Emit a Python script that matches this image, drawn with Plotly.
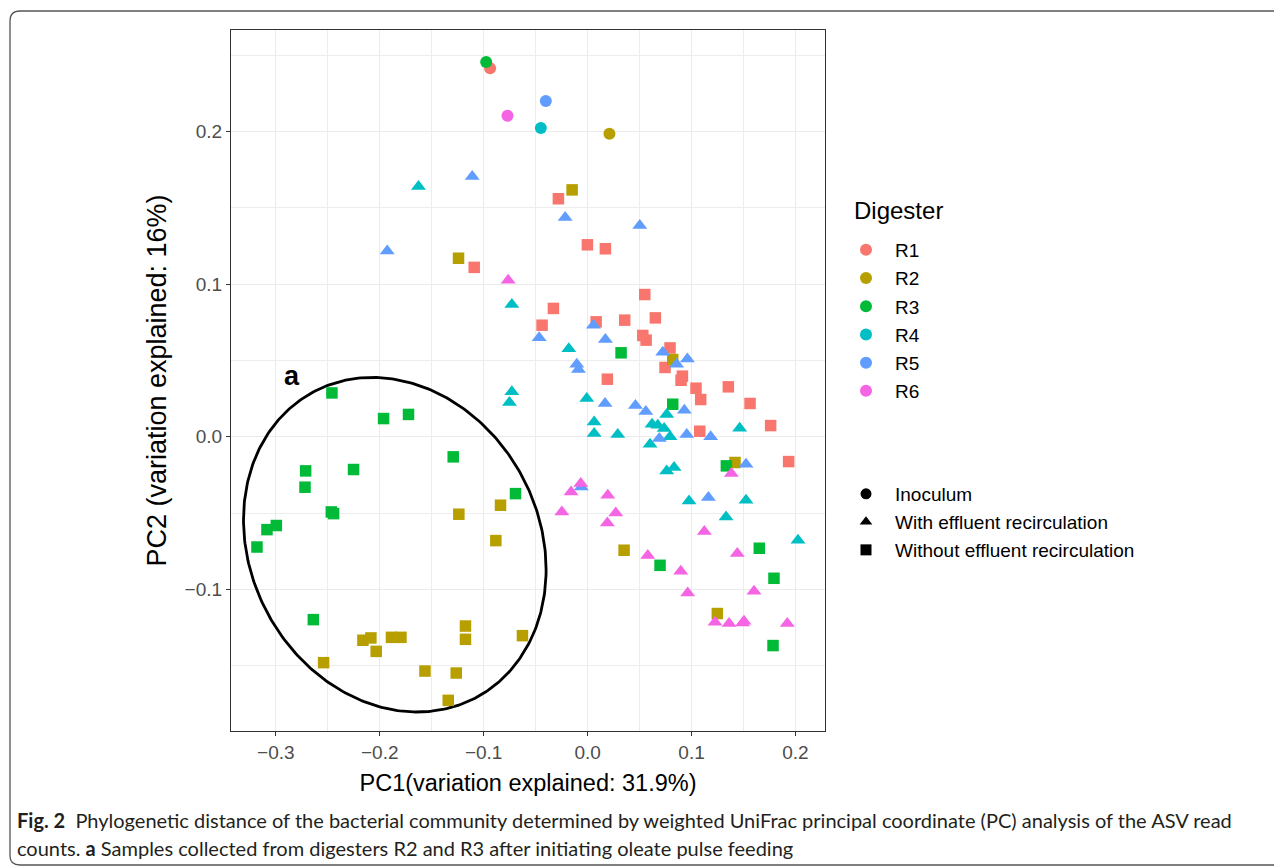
import numpy as np
import plotly.graph_objects as go

# ---------------- data ----------------
digesters = ["R1", "R2", "R3", "R4", "R5", "R6"]
digester_colors = ["#F8766D", "#B79F00", "#00BA38", "#00BFC4", "#619CFF", "#F564E3"]
sample_types = ["Inoculum", "With effluent recirculation", "Without effluent recirculation"]
type_symbols = ["circle", "triangle-up", "square"]
# sample type of the non-inoculum samples of each digester
digester_type = ["Without effluent recirculation"] * 3 + ["With effluent recirculation"] * 3

inoculum_pc1 = [-0.0938, 0.0210, -0.0976, -0.0450, -0.0402, -0.0771]
inoculum_pc2 = [0.2416, 0.1986, 0.2456, 0.2023, 0.2200, 0.2104]

R1_pc1 = [-0.0281, -0.0002, 0.0171, -0.1091, 0.0550, -0.0329, -0.0438, 0.0082, 0.0357, 0.0652,
          0.0531, 0.0563, 0.0793, 0.0745, 0.0912, 0.0899, 0.0190, 0.1043, 0.1088, 0.1354,
          0.1563, 0.1761, 0.1934, 0.1079]
R1_pc2 = [0.1560, 0.1258, 0.1232, 0.1110, 0.0932, 0.0841, 0.0731, 0.0753, 0.0764, 0.0779,
          0.0664, 0.0633, 0.0582, 0.0454, 0.0397, 0.0370, 0.0377, 0.0318, 0.0244, 0.0327,
          0.0218, 0.0073, -0.0163, 0.0036]

R2_pc1 = [-0.0149, -0.1242, 0.0819, 0.1418, 0.0351, 0.1248, -0.0838, -0.1239, -0.0883, -0.2162,
          -0.2085, -0.1887, -0.1796, -0.2034, -0.1175, -0.1175, -0.0627, -0.2540, -0.1565, -0.1264,
          -0.1341]
R2_pc2 = [0.1618, 0.1170, 0.0506, -0.0169, -0.0744, -0.1159, -0.0449, -0.0508, -0.0681, -0.1334,
          -0.1319, -0.1315, -0.1315, -0.1407, -0.1241, -0.1328, -0.1304, -0.1481, -0.1536, -0.1549,
          -0.1728]

R3_pc1 = [0.0322, 0.0819, 0.1335, -0.2460, -0.1963, -0.1723, -0.1293, -0.2713, -0.2252, -0.2719,
          -0.0694, -0.2466, -0.2444, -0.3085, -0.2995, -0.3181, -0.2639, 0.0697, 0.1652, 0.1793,
          0.1784]
R3_pc2 = [0.0550, 0.0213, -0.0191, 0.0287, 0.0119, 0.0146, -0.0132, -0.0224, -0.0215, -0.0331,
          -0.0373, -0.0493, -0.0504, -0.0609, -0.0582, -0.0723, -0.1199, -0.0843, -0.0731, -0.0928,
          -0.1369]

R4_pc1 = [-0.1627, -0.0729, -0.0729, -0.0752, -0.0181, -0.0008, 0.0761, 0.0063, 0.0063, 0.0290,
          0.0620, 0.0675, 0.0736, 0.0793, 0.0601, 0.1463, 0.0761, 0.0832, 0.0976, 0.1524,
          0.1332, 0.2024]
R4_pc2 = [0.1640, 0.0867, 0.0294, 0.0224, 0.0576, 0.0250, 0.0146, 0.0097, 0.0021, 0.0014,
          0.0082, 0.0075, 0.0054, -0.0001, -0.0049, 0.0056, -0.0224, -0.0202, -0.0421, -0.0416,
          -0.0526, -0.0679]

R5_pc1 = [-0.1110, -0.1928, -0.0216, 0.0502, -0.0466, 0.0056, 0.0171, 0.0723, 0.0960, 0.0857,
          -0.0104, -0.0088, 0.0168, 0.0460, 0.0560, 0.0931, 0.0690, 0.0954, 0.1184, 0.1524,
          -0.0060, 0.1162]
R5_pc2 = [0.1706, 0.1218, 0.1437, 0.1385, 0.0648, 0.0731, 0.0637, 0.0554, 0.0510, 0.0475,
          0.0475, 0.0440, 0.0218, 0.0205, 0.0165, 0.0174, -0.0012, 0.0014, -0.0001, -0.0180,
          -0.0330, -0.0399]

R6_pc1 = [-0.0764, 0.1383, -0.0066, -0.0159, 0.0194, -0.0248, 0.0271, 0.0190, 0.1123, 0.0579,
          0.0896, 0.0963, 0.1440, 0.1601, 0.1226, 0.1361, 0.1492, 0.1505, 0.1921]
R6_pc2 = [0.1026, -0.0241, -0.0307, -0.0362, -0.0384, -0.0493, -0.0500, -0.0565, -0.0622, -0.0779,
          -0.0882, -0.1024, -0.0766, -0.1013, -0.1216, -0.1225, -0.1221, -0.1210, -0.1225]

series_pc1 = [R1_pc1, R2_pc1, R3_pc1, R4_pc1, R5_pc1, R6_pc1]
series_pc2 = [R1_pc2, R2_pc2, R3_pc2, R4_pc2, R5_pc2, R6_pc2]

# ellipse "a" (centre and covariance-like shape matrix, in data units)
ellipse_center = [-0.1855, -0.0708]
ellipse_shape = [[0.021193, -0.002372], [-0.002372, 0.012021]]

x_ticks = [-0.3, -0.2, -0.1, 0.0, 0.1, 0.2]
y_ticks = [-0.1, 0.0, 0.1, 0.2]

# ---------------- figure ----------------
OFF = 8                                  # page body margin of the html page
W, H = 1282 - OFF, 866 - OFF
L, R, T, B = 231, 825, 30, 731           # plot-area box in page pixels


def px(x):
    return (x - L) / (R - L)


def py(y):
    return (B - y) / (B - T)


marker_size = {"circle": 12, "triangle-up": 13, "square": 11.5}

fig = go.Figure()

# ellipse
t = np.linspace(0, 2 * np.pi, 361)
chol = np.linalg.cholesky(np.array(ellipse_shape))
pts = chol @ np.vstack([np.cos(t), np.sin(t)])
fig.add_trace(go.Scatter(x=ellipse_center[0] + pts[0], y=ellipse_center[1] + pts[1],
                         mode="lines", line=dict(color="black", width=2.8),
                         showlegend=False, hoverinfo="skip"))

# sample points
for i, d in enumerate(digesters):
    sym = type_symbols[sample_types.index(digester_type[i])]
    fig.add_trace(go.Scatter(x=series_pc1[i], y=series_pc2[i], mode="markers",
                             marker=dict(symbol=sym, size=marker_size[sym], color=digester_colors[i],
                                         line=dict(width=0)),
                             name=d, showlegend=False))
for i, d in enumerate(digesters):
    fig.add_trace(go.Scatter(x=[inoculum_pc1[i]], y=[inoculum_pc2[i]], mode="markers",
                             marker=dict(symbol="circle", size=12, color=digester_colors[i],
                                         line=dict(width=0)),
                             name=d + " inoculum", showlegend=False))

# legend entries: colour
for i, d in enumerate(digesters):
    fig.add_trace(go.Scatter(x=[None], y=[None], mode="markers",
                             marker=dict(symbol="circle", size=12, color=digester_colors[i]),
                             name=d, legend="legend", legendgroup="c" + d))
# legend entries: shape
for s, sym in zip(sample_types, type_symbols):
    fig.add_trace(go.Scatter(x=[None], y=[None], mode="markers",
                             marker=dict(symbol=sym, size=11, color="black"),
                             name=s, legend="legend2", legendgroup="s" + s))

axis_common = dict(
    showgrid=True, gridcolor="#EBEBEB", gridwidth=1.4,
    zeroline=False, showline=True, mirror=True, linecolor="#333333", linewidth=1.3,
    ticks="outside", ticklen=4, tickcolor="#333333", tickwidth=1,
    tickfont=dict(family="Liberation Sans, Arial, sans-serif", size=19, color="#4D4D4D"),
    tickformat=".1f",
)
minor_grid = dict(showgrid=True, gridcolor="#EDEDED", gridwidth=0.8, dtick=0.05, tick0=0)

fig.update_layout(
    width=W, height=H,
    paper_bgcolor="white", plot_bgcolor="white",
    margin=dict(l=L - OFF, r=W - (R - OFF), t=T - OFF, b=H - (B - OFF), autoexpand=False),
    font=dict(family="Liberation Sans, Arial, sans-serif", color="black"),
    xaxis=dict(axis_common, range=[-0.3431, 0.2284], tickvals=x_ticks, minor=minor_grid,
               title=dict(text="PC1(variation explained: 31.9%)", standoff=12,
                          font=dict(size=23.5, color="black"))),
    yaxis=dict(axis_common, range=[-0.1929, 0.2666], tickvals=y_ticks, minor=minor_grid,
               title=dict(text="PC2 (variation explained: 16%)", standoff=10,
                          font=dict(size=27, color="black"))),
    legend=dict(x=px(837), y=py(231), xanchor="left", yanchor="top",
                font=dict(size=19, color="black"), tracegroupgap=0.5, itemwidth=48,
                bgcolor="rgba(0,0,0,0)", itemclick=False),
    legend2=dict(x=px(837), y=py(475), xanchor="left", yanchor="top",
                 font=dict(size=19, color="black"), tracegroupgap=0.3, itemwidth=48,
                 bgcolor="rgba(0,0,0,0)", itemclick=False),
    showlegend=True,
)

# colour legend title
fig.add_annotation(x=px(852), y=py(211), xref="paper", yref="paper", xanchor="left", yanchor="middle",
                   text="Digester", showarrow=False, font=dict(size=24, color="black"))

# bold panel label
fig.add_annotation(x=-0.2845, y=0.0397, xref="x", yref="y", text="<b>a</b>", showarrow=False,
                   font=dict(size=27, color="black", family="Liberation Sans, Arial, sans-serif"))

# figure frame (rounded corner box)
frame = (f"M {px(1300)},{py(11)} L {px(20)},{py(11)} Q {px(10)},{py(11)} {px(10)},{py(21)} "
         f"L {px(10)},{py(856)} Q {px(10)},{py(865)} {px(20)},{py(865)} L {px(1300)},{py(865)}")
fig.add_shape(type="path", path=frame, xref="paper", yref="paper",
              line=dict(color="#555555", width=1.3), layer="below")

# caption
cap_font = dict(family="Lato, Open Sans, sans-serif", size=20, color="#231F20")
fig.add_annotation(x=px(15), y=py(820), xref="paper", yref="paper", xanchor="left", yanchor="middle",
                   showarrow=False, font=cap_font,
                   text="<b>Fig. 2</b>  Phylogenetic distance of the bacterial community determined by weighted "
                        "UniFrac principal coordinate (PC) analysis of the ASV read")
fig.add_annotation(x=px(15), y=py(848), xref="paper", yref="paper", xanchor="left", yanchor="middle",
                   showarrow=False, font=cap_font,
                   text="counts. <b>a</b> Samples collected from digesters R2 and R3 after initiating oleate pulse feeding")

fig.write_html("out.html")
